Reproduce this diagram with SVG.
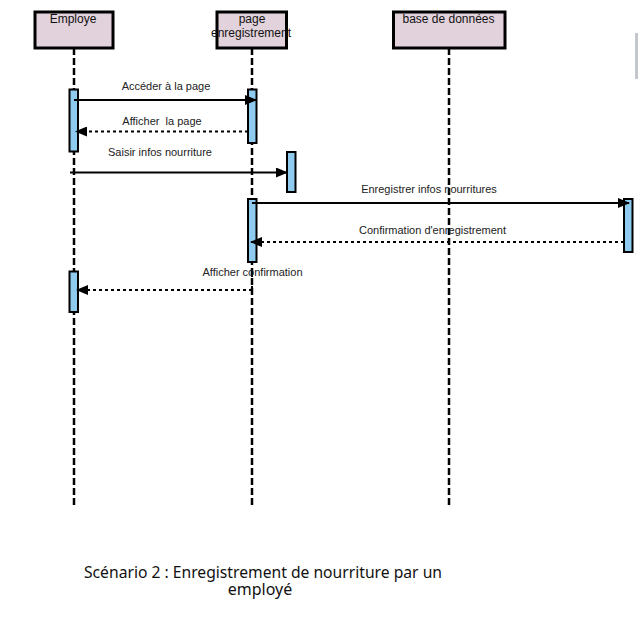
<svg xmlns="http://www.w3.org/2000/svg" width="638" height="630" viewBox="0 0 638 630">
<defs>
<style>
.head{fill:#e1d2dc;stroke:#000;stroke-width:3}
.life{stroke:#000;stroke-width:2.5;stroke-dasharray:7 3;fill:none}
.act{fill:#8fcbee;stroke:#000;stroke-width:2}
.msg{stroke:#000;stroke-width:2;fill:none}
.ret{stroke:#000;stroke-width:2;fill:none;stroke-dasharray:3 3}
.lbl{font-family:"Liberation Sans",Arial,sans-serif;font-size:11px;fill:#222;text-anchor:middle}
.hl{font-family:"Liberation Sans",Arial,sans-serif;font-size:12px;fill:#111;text-anchor:middle}
.title{font-family:"Noto Sans","Open Sans",sans-serif;font-size:16px;fill:#111;text-anchor:middle}
</style>
<marker id="ah" markerWidth="12" markerHeight="10" refX="11" refY="5" orient="auto" markerUnits="userSpaceOnUse">
<path d="M0,0 L12,5 L0,10 Z" fill="#000"/>
</marker>
</defs>
<rect width="638" height="630" fill="#fff"/>
<rect x="635" y="33" width="3" height="46" fill="#c3c7cc"/>

<g id="employe">
<rect class="head" x="35" y="12" width="78" height="36"/>
<text class="hl" x="73" y="22.5">Employe</text>
<line class="life" x1="74" y1="48" x2="74" y2="505"/>
<rect class="act" x="69.5" y="89.5" width="8.5" height="62"/>
<rect class="act" x="69.5" y="271.5" width="8.5" height="40.5"/>
</g>

<g id="page">
<rect class="head" x="217" y="12" width="69.5" height="36"/>
<text class="hl" x="252" y="22.5">page</text>
<text class="hl" x="251" y="36.5">enregistrement</text>
<line class="life" x1="252" y1="48" x2="252" y2="505"/>
<rect class="act" x="248" y="89.5" width="8.5" height="53.5"/>
<rect class="act" x="287" y="152" width="8.5" height="40"/>
<rect class="act" x="248" y="199" width="8.5" height="63"/>
</g>

<g id="bdd">
<rect class="head" x="393.5" y="12" width="111.5" height="36"/>
<text class="hl" x="448.5" y="22.5">base de données</text>
<line class="life" x1="449" y1="48" x2="449" y2="505"/>
<rect class="act" x="624" y="199" width="8.5" height="53"/>
</g>

<g id="connectors">
<line class="msg" x1="74" y1="100" x2="256" y2="100" marker-end="url(#ah)"/>
<text class="lbl" x="166" y="90">Accéder à la page</text>
<line class="ret" x1="248" y1="131.5" x2="76" y2="131.5" marker-end="url(#ah)"/>
<text class="lbl" x="162" y="125">Afficher&#160; la page</text>
<line class="msg" x1="70" y1="172.5" x2="287" y2="172.5" marker-end="url(#ah)"/>
<text class="lbl" x="160" y="156">Saisir infos nourriture</text>
<line class="msg" x1="252" y1="203" x2="629" y2="203" marker-end="url(#ah)"/>
<text class="lbl" x="429" y="192.5">Enregistrer infos nourritures</text>
<line class="ret" x1="624" y1="242" x2="251" y2="242" marker-end="url(#ah)"/>
<text class="lbl" x="432.5" y="234">Confirmation d'enregistrement</text>
<line class="ret" x1="252" y1="262" x2="252" y2="290"/>
<line class="ret" x1="252" y1="290" x2="77" y2="290" marker-end="url(#ah)"/>
<text class="lbl" x="252.5" y="275.5">Afficher confirmation</text>
</g>

<g id="caption">
<text class="title" x="263" y="578" textLength="358" lengthAdjust="spacingAndGlyphs">Scénario 2 : Enregistrement de nourriture par un</text>
<text class="title" x="260" y="595">employé</text>
</g>
</svg>
